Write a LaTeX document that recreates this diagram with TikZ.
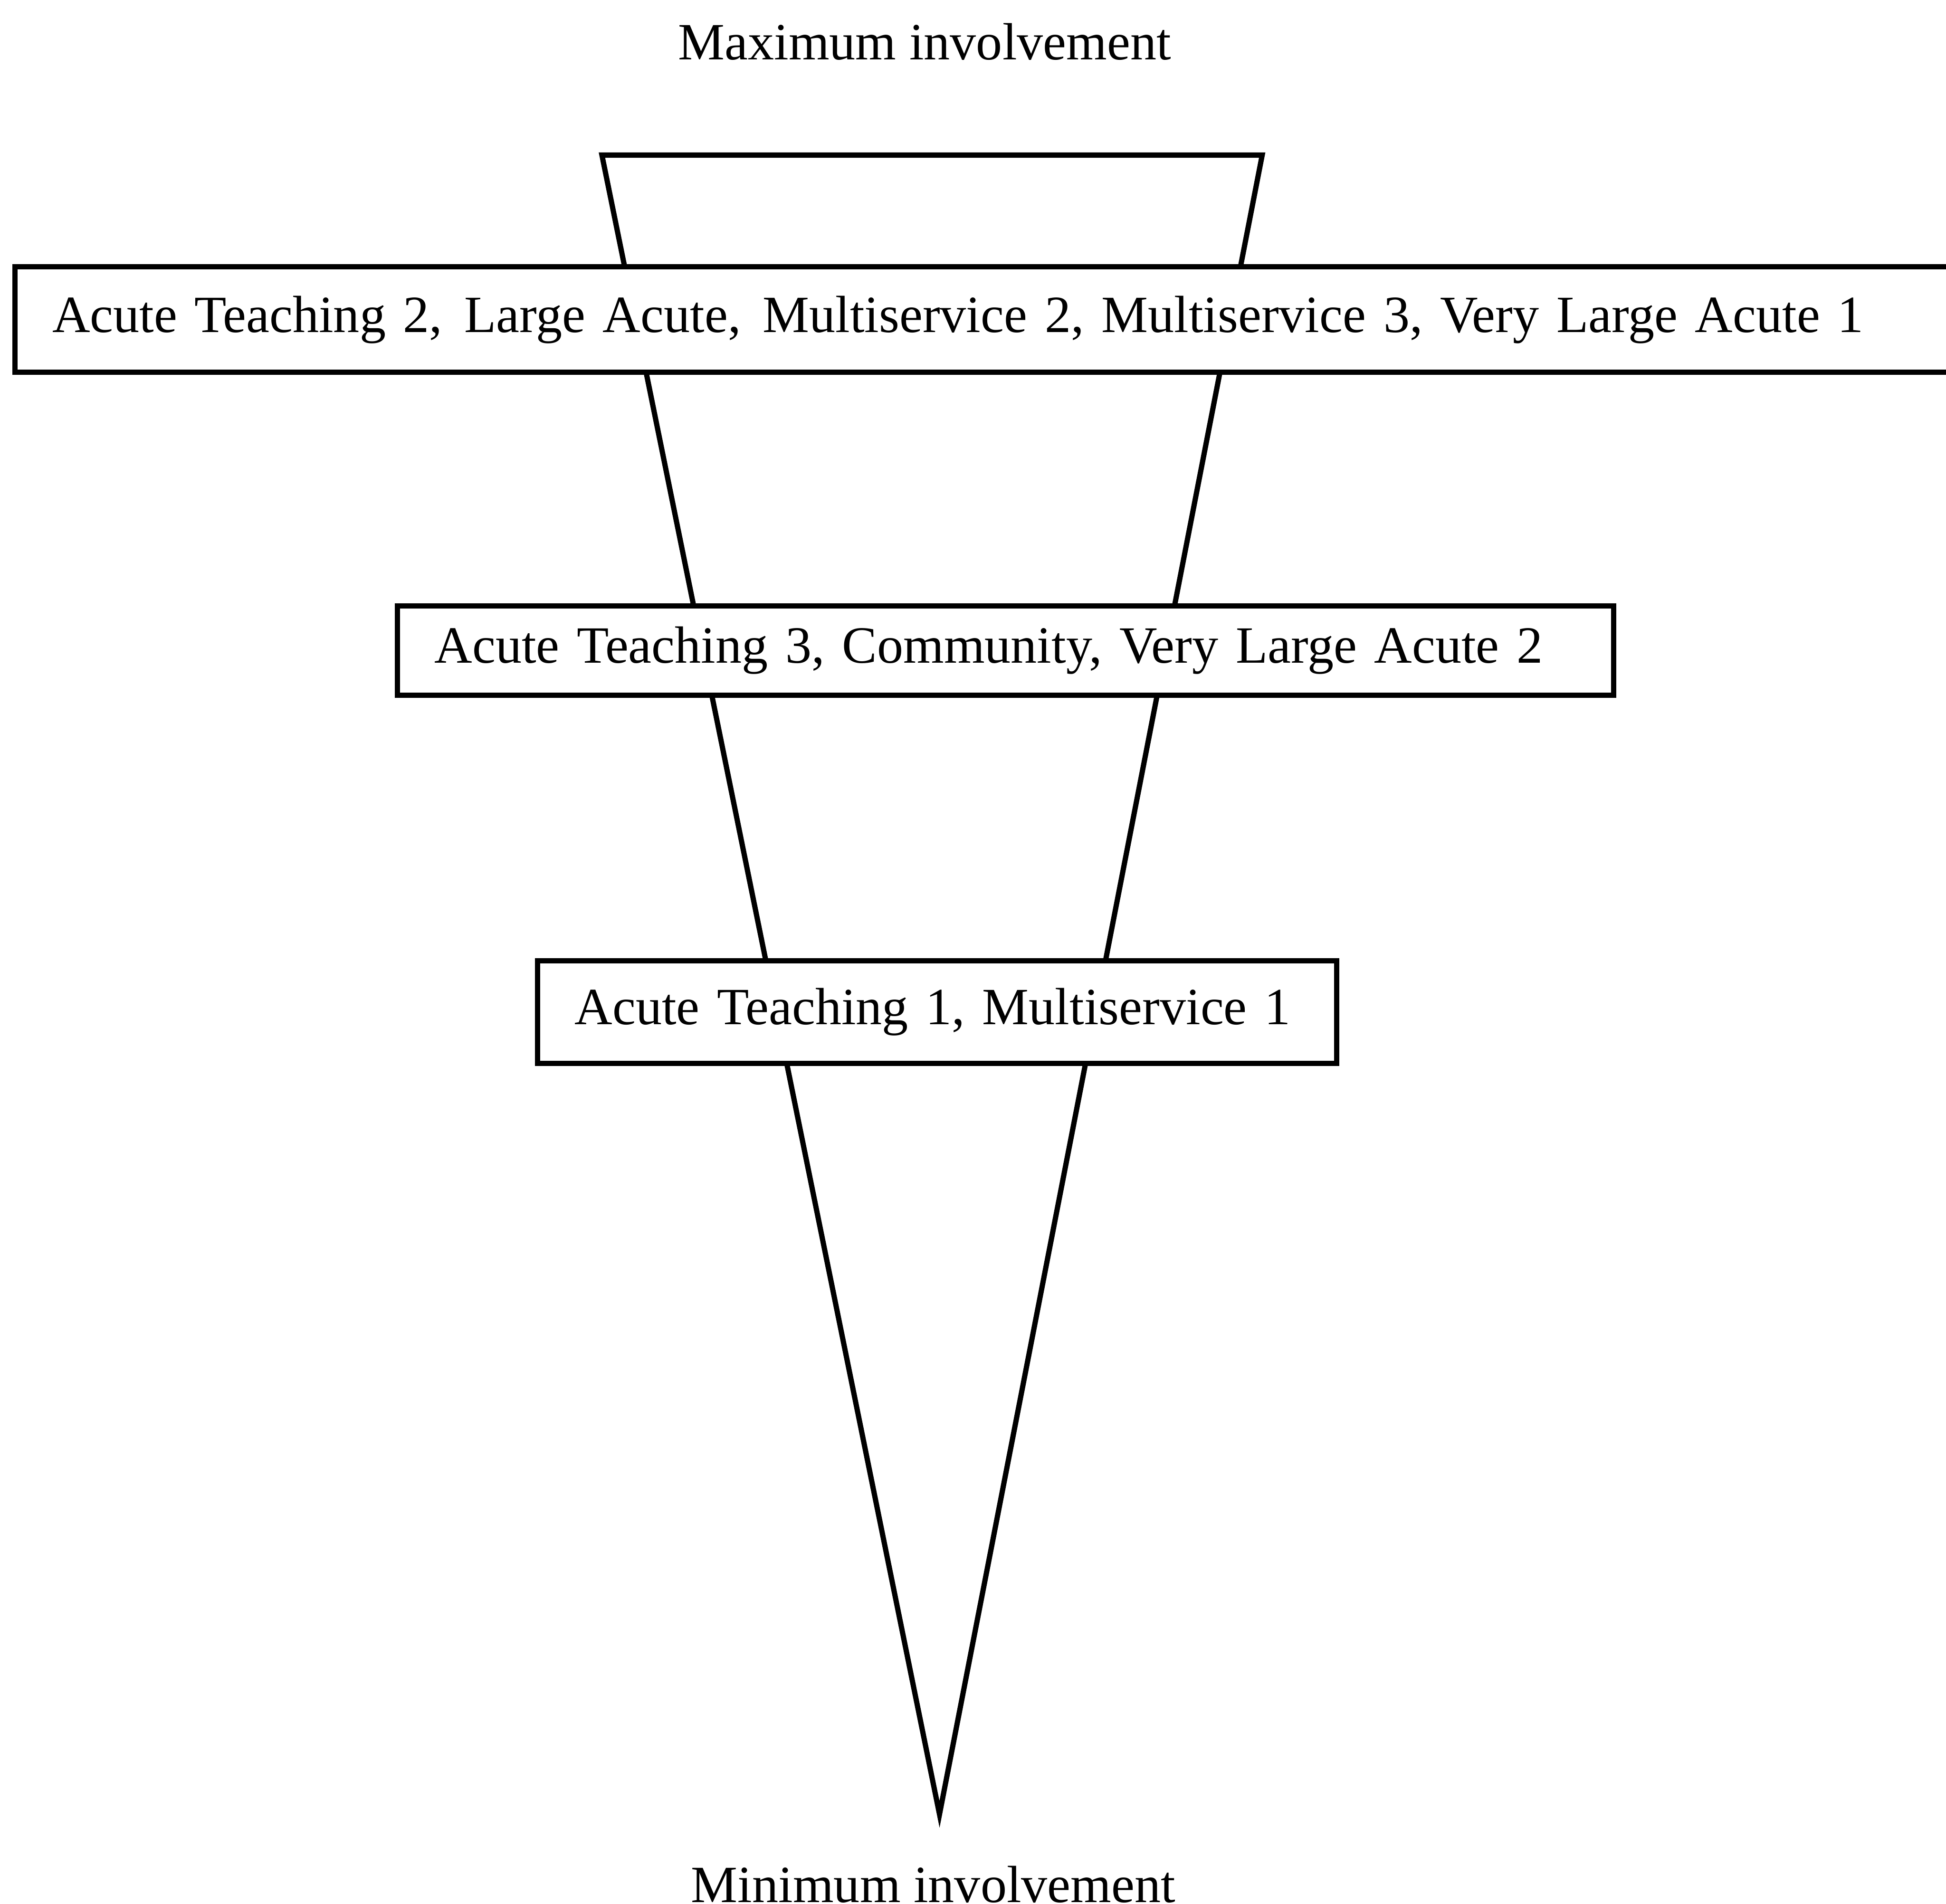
\documentclass[tikz,border=0pt]{standalone}
\usepackage{fontspec}
\setmainfont{Liberation Serif}
\begin{document}
\begin{tikzpicture}[line width=1.2pt,
    box/.style={draw, fill=white, anchor=north west, inner xsep=0.3cm, align=left, font=\fontsize{12}{14}\selectfont},
    label/.style={anchor=base, font=\fontsize{12}{14}\selectfont}]
    \useasboundingbox (0,0) rectangle (15.68,-15.34);

    \coordinate (topleft) at (4.85,-1.25);
    \coordinate (topright) at (10.17,-1.25);
    \coordinate (apex) at (7.57,-14.62);
    \draw (topleft) -- (topright) -- (apex) -- cycle;

    \node[label] (max) at (7.45,-0.48) {Maximum involvement};
    \node[label] (min) at (7.52,-15.33) {Minimum involvement};

    \node[box, text width=15.3cm, minimum height=0.85cm] (high) at (0.10,-2.13) {Acute Teaching 2,\hspace{1pt} Large Acute,\hspace{1pt} Multiservice 2, Multiservice 3, Very Large Acute 1};
    \node[box, text width=9.2cm, minimum height=0.72cm] (middle) at (3.18,-4.86) {Acute Teaching 3, Community, Very Large Acute 2};
    \node[box, text width=5.84cm, minimum height=0.83cm] (low) at (4.31,-7.72) {Acute Teaching 1, Multiservice 1};
\end{tikzpicture}
\end{document}
